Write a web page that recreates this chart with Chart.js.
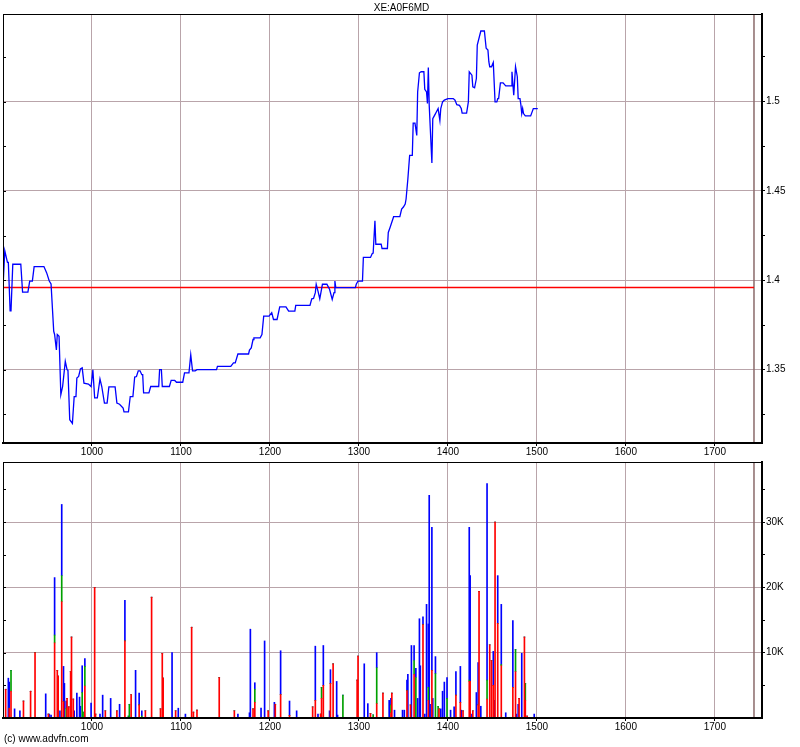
<!DOCTYPE html>
<html>
<head>
<meta charset="utf-8">
<title>XE:A0F6MD</title>
<script src="https://cdn.jsdelivr.net/npm/chart.js@4.4.1/dist/chart.umd.min.js"></script>
<style>
body { margin: 0; background: #fff; }
#wrap { position: relative; width: 800px; height: 747px; }
#price { position: absolute; left: 0; top: 0; }
#volume { position: absolute; left: 0; top: 455px; }
#copy { position: absolute; left: 4px; top: 733px; font: 10px "Liberation Sans", Arial, sans-serif; color: #000; }
</style>
</head>
<body>
<div id="wrap">
<canvas id="price" width="800" height="459"></canvas>
<canvas id="volume" width="800" height="292"></canvas>
<div id="copy">(c) www.advfn.com</div>
</div>
<script>
const title = "XE:A0F6MD";

// price line (x = day number, y = price)
const priceDay = [900, 902, 905, 906, 908, 909, 911, 920, 922, 928, 930, 933, 935, 946, 949, 952, 954, 957, 958, 960,
    961, 963, 965, 967, 970, 972, 973, 975, 978, 980, 982, 983, 985, 987, 989, 991, 996, 999, 1001, 1003,
    1006, 1009, 1011, 1014, 1017, 1019, 1026, 1028, 1031, 1035, 1036, 1041, 1043, 1046, 1048, 1050, 1052, 1054, 1056, 1057,
    1058, 1064, 1066, 1075, 1076, 1078, 1079, 1087, 1089, 1093, 1095, 1102, 1104, 1109, 1111, 1113, 1116, 1118, 1140, 1141,
    1156, 1159, 1161, 1164, 1176, 1177, 1179, 1181, 1182, 1189, 1191, 1193, 1199, 1202, 1204, 1208, 1211, 1218, 1221, 1228,
    1229, 1245, 1247, 1249, 1251, 1252, 1254, 1256, 1259, 1264, 1266, 1267, 1270, 1272, 1273, 1274, 1296, 1297, 1299, 1304,
    1305, 1313, 1315, 1316, 1318, 1319, 1325, 1326, 1332, 1333, 1335, 1336, 1339, 1346, 1348, 1350, 1352, 1353, 1355, 1357,
    1360, 1361, 1363, 1365, 1366, 1368, 1370, 1373, 1374, 1376, 1377, 1378, 1379, 1382, 1383, 1385, 1387, 1389, 1391, 1392,
    1394, 1396, 1400, 1406, 1408, 1410, 1413, 1415, 1416, 1421, 1423, 1424, 1427, 1428, 1430, 1432, 1433, 1437, 1441, 1443,
    1445, 1446, 1447, 1449, 1451, 1453, 1455, 1456, 1457, 1459, 1462, 1465, 1471, 1472, 1474, 1476, 1478, 1479, 1481, 1482,
    1483, 1484, 1485, 1487, 1493, 1496, 1501];
const price = [1.396, 1.4165, 1.410, 1.410, 1.383, 1.383, 1.409, 1.409, 1.3934, 1.3934, 1.3996, 1.3996, 1.4077, 1.4077, 1.4043, 1.3996, 1.398, 1.3715, 1.3697, 1.361,
    1.3697, 1.3687, 1.336, 1.3406, 1.3547, 1.350, 1.3496, 1.322, 1.320, 1.335, 1.335, 1.3453, 1.3462, 1.3504, 1.351, 1.3425, 1.342, 1.3406, 1.350, 1.3343,
    1.3343, 1.3448, 1.3406, 1.3313, 1.3313, 1.3404, 1.3404, 1.3313, 1.3307, 1.3285, 1.3264, 1.3264, 1.335, 1.335, 1.3459, 1.3462, 1.3494, 1.3494, 1.3472, 1.3472,
    1.337, 1.337, 1.3406, 1.3406, 1.350, 1.350, 1.3406, 1.3406, 1.344, 1.344, 1.343, 1.343, 1.3482, 1.3482, 1.3584, 1.3494, 1.3494, 1.350, 1.350, 1.3519,
    1.3519, 1.3538, 1.3538, 1.3588, 1.3588, 1.361, 1.3622, 1.3669, 1.3678, 1.3678, 1.3697, 1.380, 1.380, 1.3819, 1.3781, 1.3781, 1.3852, 1.3852, 1.3828, 1.3828,
    1.386, 1.386, 1.3897, 1.3899, 1.3931, 1.3978, 1.394, 1.3897, 1.3978, 1.3978, 1.3959, 1.395, 1.3893, 1.3931, 1.3996, 1.3959, 1.3959, 1.3978, 1.3996, 1.3996,
    1.4128, 1.4128, 1.415, 1.4152, 1.4333, 1.4202, 1.4202, 1.4178, 1.4178, 1.4268, 1.4296, 1.4296, 1.4356, 1.4356, 1.4399, 1.441, 1.4427, 1.4455, 1.4567, 1.4699,
    1.4699, 1.488, 1.488, 1.4811, 1.5054, 1.5161, 1.5167, 1.5167, 1.5069, 1.5054, 1.4989, 1.5191, 1.4979, 1.4657, 1.4904, 1.4923, 1.4942, 1.4961, 1.4895, 1.4961,
    1.4998, 1.5008, 1.5017, 1.5017, 1.5008, 1.4983, 1.4979, 1.4961, 1.4936, 1.4936, 1.4998, 1.5167, 1.5148, 1.5083, 1.5077, 1.5129, 1.5316, 1.5395, 1.5395, 1.5298,
    1.5288, 1.5223, 1.5195, 1.5195, 1.5219, 1.4998, 1.4998, 1.5017, 1.5017, 1.5105, 1.5105, 1.5088, 1.5088, 1.5167, 1.5036, 1.5195, 1.5139, 1.5017, 1.5017, 1.4983,
    1.4933, 1.4961, 1.4933, 1.492, 1.492, 1.4961, 1.4961];
const prevClose = 1.396;
const markerDay = 1744;

// axes
const dayTicks = [1000, 1100, 1200, 1300, 1400, 1500, 1600, 1700];
const priceTicks = [1.325, 1.35, 1.375, 1.4, 1.425, 1.45, 1.475, 1.5, 1.525];
const priceLabels = ["", "1.35", "", "1.4", "", "1.45", "", "1.5", ""];
const volTicks = [5000, 10000, 15000, 20000, 25000, 30000, 35000];
const volLabels = ["", "10K", "", "20K", "", "30K", ""];

// volume, split by colour (stacked red, green, blue)
const volDay = [903, 906, 907, 909, 913, 919, 923, 931, 936, 948,
    951, 952, 954, 958, 961, 962, 964, 966, 968, 969,
    971, 972, 974, 976, 977, 979, 980, 983, 986, 987,
    989, 990, 992, 999, 1003, 1004, 1009, 1012, 1015, 1021,
    1028, 1031, 1037, 1041, 1042, 1044, 1049, 1053, 1056, 1060,
    1067, 1077, 1079, 1080, 1090, 1094, 1097, 1105, 1112, 1114,
    1118, 1143, 1160, 1164, 1177, 1178, 1181, 1183, 1190, 1194,
    1198, 1205, 1206, 1212, 1222, 1230, 1248, 1251, 1254, 1257,
    1258, 1260, 1267, 1268, 1271, 1275, 1276, 1282, 1298, 1299,
    1306, 1310, 1313, 1316, 1320, 1327, 1334, 1336, 1337, 1340,
    1349, 1351, 1354, 1355, 1358, 1359, 1362, 1364, 1366, 1368,
    1369, 1372, 1374, 1376, 1378, 1379, 1380, 1382, 1383, 1386,
    1389, 1390, 1392, 1394, 1396, 1399, 1403, 1407, 1409, 1414,
    1415, 1417, 1424, 1425, 1427, 1428, 1432, 1434, 1435, 1437,
    1444, 1447, 1449, 1451, 1452, 1453, 1456, 1460, 1465, 1473,
    1476, 1477, 1479, 1480, 1483, 1486, 1487, 1489, 1497];
const volRed = [4400, 0, 1500, 4100, 0, 0, 2600, 4100, 10000, 0,
    600, 0, 0, 11500, 7300, 6400, 0, 17800, 2500, 0,
    0, 3000, 1700, 7100, 12400, 2900, 0, 0, 0, 0,
    0, 0, 4900, 0, 20000, 600, 0, 0, 1100, 0,
    1100, 0, 11800, 0, 0, 3600, 0, 2000, 0, 1100,
    18500, 1400, 9900, 6100, 0, 1100, 0, 0, 13900, 900,
    1200, 6200, 1100, 0, 0, 0, 1400, 2400, 0, 0,
    1100, 0, 2100, 3600, 400, 0, 1700, 2700, 0, 600,
    3000, 5000, 0, 5300, 8300, 0, 0, 0, 5800, 9500,
    0, 0, 700, 0, 2200, 3800, 0, 800, 3800, 0,
    0, 0, 4200, 0, 2000, 0, 6700, 0, 0, 0,
    0, 14300, 0, 0, 2700, 0, 0, 7300, 0, 0,
    0, 1400, 0, 0, 0, 0, 0, 0, 3500, 2400,
    0, 1100, 5600, 5600, 0, 1100, 0, 2000, 19400, 0,
    2900, 11200, 8800, 5000, 0, 30000, 14500, 8000, 0, 4700,
    7100, 0, 0, 3000, 0, 12400, 2700, 300, 0];
const volGreen = [0, 0, 0, 3200, 0, 0, 0, 0, 0, 0,
    0, 0, 0, 1200, 0, 0, 0, 4000, 0, 0,
    1500, 0, 0, 0, 0, 0, 0, 0, 0, 0,
    3900, 900, 3000, 0, 0, 0, 0, 0, 0, 0,
    0, 0, 0, 300, 2100, 0, 0, 0, 300, 0,
    0, 0, 0, 0, 0, 0, 0, 0, 0, 0,
    0, 0, 0, 0, 0, 0, 0, 2000, 0, 0,
    0, 0, 0, 0, 0, 0, 0, 0, 0, 0,
    1700, 0, 0, 0, 0, 0, 0, 3500, 0, 0,
    0, 0, 0, 500, 5500, 0, 0, 1200, 0, 0,
    0, 0, 0, 0, 0, 0, 2100, 6200, 0, 0,
    0, 0, 0, 0, 2000, 0, 0, 0, 0, 6800,
    1800, 0, 0, 0, 0, 3000, 0, 0, 0, 0,
    0, 0, 200, 0, 0, 0, 0, 0, 0, 0,
    2900, 0, 0, 0, 0, 0, 0, 200, 0, 0,
    3400, 0, 0, 0, 0, 0, 2600, 0, 0];
const volBlue = [0, 6100, 4000, 0, 1400, 1100, 0, 0, 0, 3700,
    0, 600, 450, 8800, 0, 0, 1100, 10900, 5400, 5300,
    1100, 0, 0, 0, 0, 0, 1100, 3800, 3200, 1800,
    4100, 0, 1200, 2300, 0, 0, 600, 3500, 0, 3000,
    0, 2100, 6200, 0, 0, 0, 7300, 1800, 800, 0,
    0, 0, 0, 0, 10000, 0, 1500, 600, 0, 0,
    0, 0, 0, 600, 800, 13600, 0, 1000, 1500, 11800,
    0, 2400, 0, 6700, 2200, 1100, 0, 8300, 600, 0,
    0, 6100, 1100, 2100, 0, 5600, 450, 0, 0, 0,
    8300, 2200, 0, 0, 2300, 0, 2700, 1000, 0, 1200,
    1200, 1200, 1600, 6700, 0, 11100, 2300, 1400, 3000, 15200,
    8000, 1200, 600, 17400, 9700, 34100, 2100, 21900, 3000, 2600,
    0, 0, 1400, 4100, 5500, 3200, 1200, 1700, 3600, 5500,
    1200, 0, 23400, 16200, 600, 0, 3900, 6500, 0, 1800,
    30100, 0, 0, 5200, 2700, 0, 7300, 9200, 800, 10200,
    0, 600, 2100, 0, 9900, 0, 0, 0, 600];

Chart.defaults.font.family = '"Liberation Sans", Arial, sans-serif';
Chart.defaults.font.size = 10;
Chart.defaults.color = "#000";

const gridColor = "#b9a4aa";

// black frame round the plot, short ticks on the left edge, end-of-range marker
const framePlugin = {
    id: "frame",
    beforeDatasetsDraw(chart) {
        const {ctx, chartArea: a, scales} = chart;
        const mx = scales.x.getPixelForValue(markerDay);
        ctx.save();
        ctx.strokeStyle = "#8a6a6a";
        ctx.lineWidth = 1.5;
        ctx.beginPath();
        ctx.moveTo(mx, a.top);
        ctx.lineTo(mx, a.bottom);
        ctx.stroke();
        ctx.restore();
    },
    afterDraw(chart) {
        const {ctx, chartArea: a, scales} = chart;
        ctx.save();
        ctx.strokeStyle = "#000";
        ctx.lineWidth = 1;
        ctx.strokeRect(a.left + 0.5, a.top + 0.5, a.right - a.left - 1, a.bottom - a.top - 1);
        scales.y.ticks.forEach(t => {
            const y = Math.round(scales.y.getPixelForValue(t.value)) + 0.5;
            ctx.beginPath();
            ctx.moveTo(a.left, y);
            ctx.lineTo(a.left + 3, y);
            ctx.stroke();
        });
        ctx.restore();
    }
};

function dayAxis(height){
    return {
        type: "linear",
        min: 900,
        max: 1753,
        offset: false,
        stacked: true,
        afterBuildTicks: s => { s.ticks = dayTicks.map(v => ({value: v})); },
        afterFit: s => { s.height = height; },
        ticks: {
            padding: 0,
            maxRotation: 0,
            autoSkip: false,
            callback: v => String(v)
        },
        grid: {
            offset: false,
            color: gridColor,
            tickColor: "#000",
            tickLength: 3
        },
        border: {color: "#000", width: 2}
    };
}

function valueAxis(min, max, ticks, labels){
    return {
        position: "right",
        min: min,
        max: max,
        afterBuildTicks: s => { s.ticks = ticks.map(v => ({value: v})); },
        afterFit: s => { s.width = 38; },
        ticks: {
            padding: 1,
            autoSkip: false,
            callback: (v, i) => labels[i]
        },
        grid: {
            color: c => labels[c.index] ? gridColor : "rgba(0,0,0,0)",
            tickColor: "#000",
            tickLength: 3
        },
        border: {color: "#000", width: 2}
    };
}

function getPriceChart(ctx){
    var chart = new Chart(ctx, {
        type: "line",
        data: {
            datasets: [
                {
                    label: title,
                    data: priceDay.map((d, i) => ({x: d, y: price[i]})),
                    borderColor: "#0000ff",
                    borderWidth: 1.3,
                    pointRadius: 0,
                    tension: 0
                },
                {
                    label: "Previous close",
                    data: [{x: 900, y: prevClose}, {x: markerDay, y: prevClose}],
                    borderColor: "#ff0000",
                    borderWidth: 1.3,
                    pointRadius: 0
                }
            ]
        },
        options: {
            responsive: false,
            animation: false,
            events: [],
            layout: {padding: {left: 3, top: 0, right: 0, bottom: 0}},
            plugins: {
                legend: {display: false},
                tooltip: {enabled: false},
                title: {
                    display: true,
                    text: title,
                    color: "#000",
                    font: {size: 10, weight: "normal"},
                    padding: {top: 2, bottom: 0}
                }
            },
            scales: {
                x: dayAxis(16),
                y: valueAxis(1.309, 1.549, priceTicks, priceLabels)
            }
        },
        plugins: [framePlugin]
    });
    return chart;
}

function getVolumeChart(ctx){
    const bar = (values, colour) => ({
        data: volDay.map((d, i) => ({x: d, y: values[i]})),
        backgroundColor: colour,
        barThickness: 1,
        borderWidth: 0
    });
    var chart = new Chart(ctx, {
        type: "bar",
        data: {
            datasets: [
                Object.assign({label: "Red"}, bar(volRed, "#ff0000")),
                Object.assign({label: "Green"}, bar(volGreen, "#00a000")),
                Object.assign({label: "Blue"}, bar(volBlue, "#0000ff"))
            ]
        },
        options: {
            responsive: false,
            animation: false,
            events: [],
            layout: {padding: {left: 3, top: 4, right: 0, bottom: 0}},
            plugins: {
                legend: {display: false},
                tooltip: {enabled: false}
            },
            scales: {
                x: dayAxis(29),
                y: Object.assign(valueAxis(0, 39200, volTicks, volLabels), {stacked: true})
            }
        },
        plugins: [framePlugin]
    });
    return chart;
}

getPriceChart(document.getElementById("price"));
getVolumeChart(document.getElementById("volume"));
</script>
</body>
</html>
